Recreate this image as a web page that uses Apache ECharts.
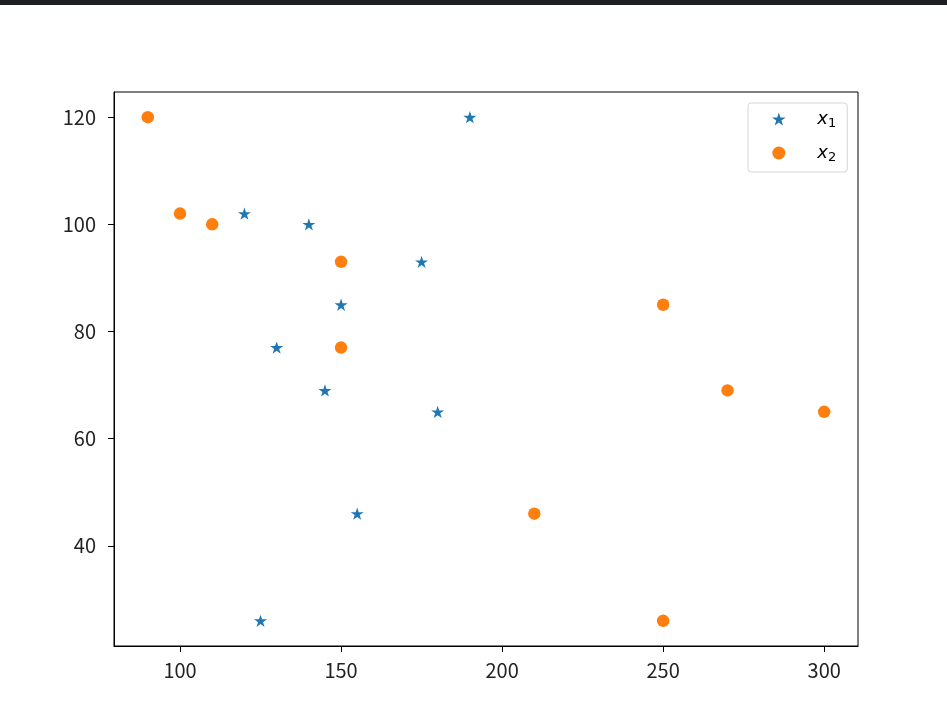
<!DOCTYPE html>
<html>
<head>
<meta charset="utf-8">
<script src="https://cdn.jsdelivr.net/npm/echarts@6/dist/echarts.min.js"></script>
<style>
  html, body { margin: 0; padding: 0; background: #ffffff; }
  #chart { width: 947px; height: 722px; }
</style>
</head>
<body>
<div id="chart"></div>
<script>
// ---- data ----
const seriesNames = ['x1', 'x2'];
const x1X = [190, 120, 140, 175, 150, 130, 145, 180, 155, 125];
const x1Y = [120, 102, 100, 93, 85, 77, 69, 65, 46, 26];
const x2X = [90, 100, 110, 150, 150, 250, 270, 300, 210, 250];
const x2Y = [120, 102, 100, 93, 77, 85, 69, 65, 46, 26];
const xTicks = [100, 150, 200, 250, 300];
const yTicks = [40, 60, 80, 100, 120];

const starPath = 'path://M100 0 L122.45 69.1 L195.11 69.1 L136.33 111.8 L158.78 180.9 L100 138.2 L41.22 180.9 L63.67 111.8 L4.89 69.1 L77.55 69.1 Z';

function pairs(xs, ys) { return xs.map((x, i) => [x, ys[i]]); }

const labelFont = '"Liberation Sans Narrow", "Noto Sans CJK SC", sans-serif';
const chart = echarts.init(document.getElementById('chart'), null, { renderer: 'canvas' });

const legendRich = {
  p: { fontFamily: 'DejaVu Sans', fontSize: 11, lineHeight: 16 },
  i: { fontFamily: 'DejaVu Sans', fontStyle: 'italic', fontSize: 18, color: '#000', lineHeight: 16 },
  s: { fontFamily: 'DejaVu Sans', fontSize: 13, color: '#000', lineHeight: 16, padding: [9, 0, 0, 0] }
};

chart.setOption({
  backgroundColor: '#ffffff',
  animation: false,
  graphic: [{
    type: 'rect', left: 0, top: 0, shape: { width: 947, height: 5 },
    style: { fill: '#1e1f23' }, silent: true
  }],
  grid: {
    left: 114, right: 89, top: 92, bottom: 76,
    show: true, borderColor: '#000', borderWidth: 1, backgroundColor: 'transparent',
    containLabel: false, outerBoundsMode: 'none'
  },
  legend: {
    orient: 'vertical',
    left: 748, top: 103,
    padding: [5, 11, 8, 24],
    itemWidth: 46, itemHeight: 13, itemGap: 12,
    backgroundColor: '#ffffff',
    borderColor: '#d6d6d6', borderWidth: 1, borderRadius: 3,
    symbolKeepAspect: true,
    data: [
      { name: 'x1', icon: starPath, itemStyle: { color: '#1f77b4' } },
      { name: 'x2', icon: 'circle', itemStyle: { color: '#ff7f0e' } }
    ],
    formatter: function (name) { return '{p|\u00a0\u00a0\u00a0}{i|x}{s|' + name.slice(1) + '}'; },
    textStyle: { rich: legendRich, lineHeight: 16 }
  },
  xAxis: {
    type: 'value', min: 79.5, max: 310.5,
    splitLine: { show: false },
    axisLine: { show: true, onZero: false, lineStyle: { color: '#000', width: 1 } },
    axisTick: { show: true, inside: false, length: 6, lineStyle: { color: '#000' }, customValues: xTicks },
    axisLabel: { show: true, customValues: xTicks, margin: 14, color: '#222', fontSize: 20, fontFamily: labelFont }
  },
  yAxis: {
    type: 'value', min: 21.3, max: 124.7,
    splitLine: { show: false },
    axisLine: { show: true, onZero: false, lineStyle: { color: '#000', width: 1 } },
    axisTick: { show: true, inside: false, length: 6, lineStyle: { color: '#000' }, customValues: yTicks },
    axisLabel: { show: true, customValues: yTicks, margin: 18, color: '#222', fontSize: 20, fontFamily: labelFont }
  },
  series: [
    {
      name: seriesNames[0], type: 'scatter', data: pairs(x1X, x1Y),
      symbol: starPath, symbolSize: 13, symbolKeepAspect: true,
      itemStyle: { color: '#1f77b4', opacity: 1 }
    },
    {
      name: seriesNames[1], type: 'scatter', data: pairs(x2X, x2Y),
      symbol: 'circle', symbolSize: 12.5,
      itemStyle: { color: '#ff7f0e', opacity: 1 }
    }
  ]
});
</script>
</body>
</html>
